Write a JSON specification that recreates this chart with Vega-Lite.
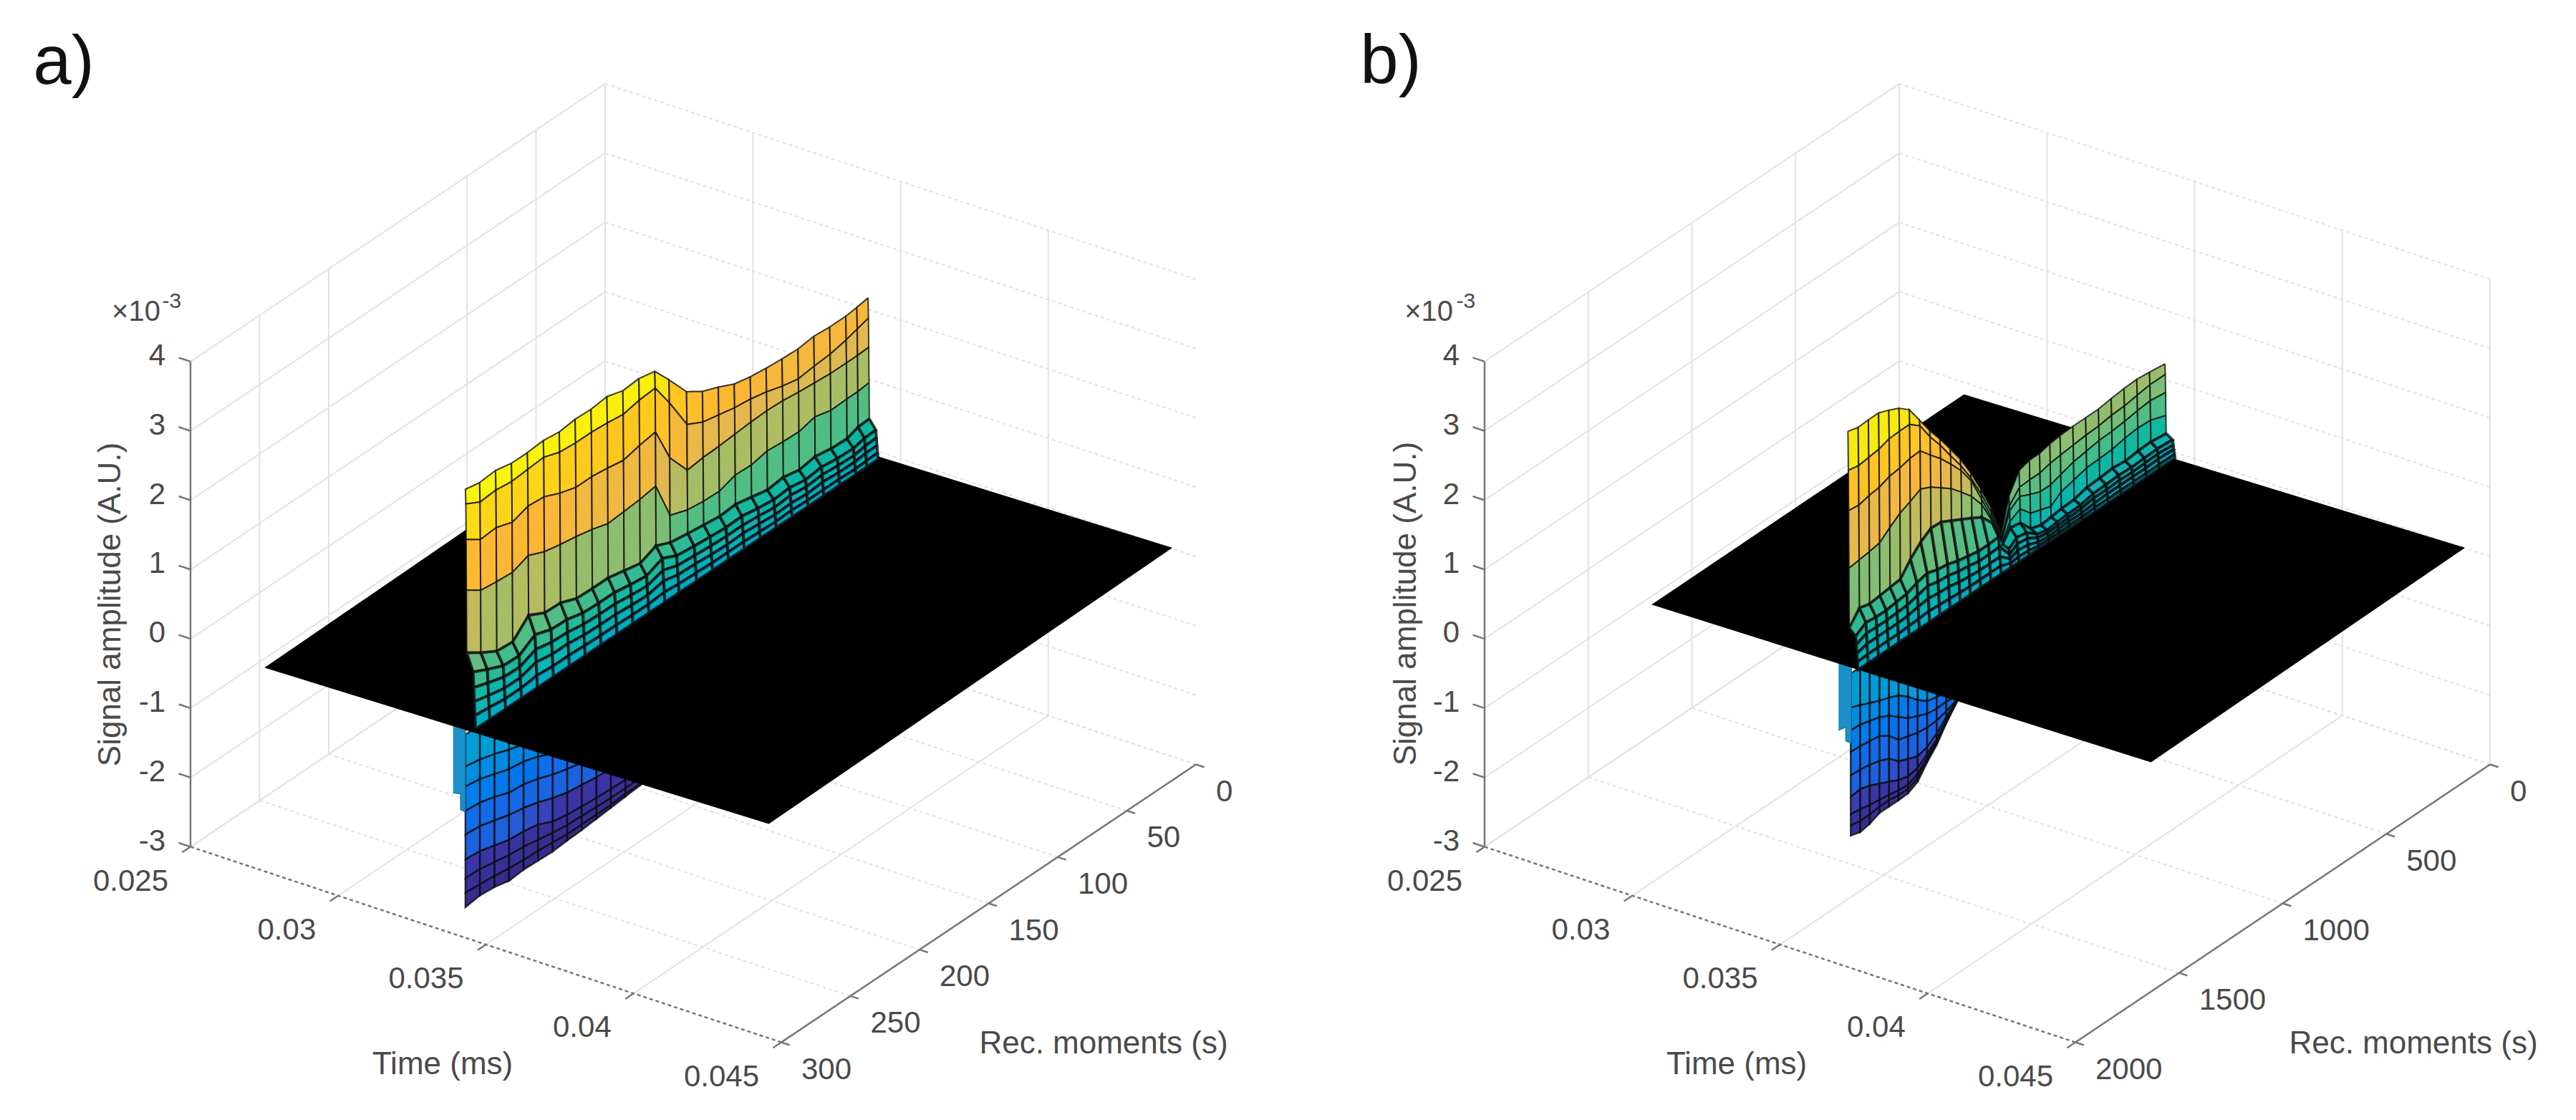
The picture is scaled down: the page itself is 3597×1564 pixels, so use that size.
{"$schema":"https://vega.github.io/schema/vega-lite/v6.json","width":3597,"height":1564,"padding":0,"autosize":{"type":"fit","contains":"padding"},"background":"white","config":{"view":{"stroke":null}},
"datasets":{
"ticks":[
{"panel":"a","axis":"t","value":0.025,"label":"0.025"},{"panel":"a","axis":"t","value":0.03,"label":"0.03"},{"panel":"a","axis":"t","value":0.035,"label":"0.035"},{"panel":"a","axis":"t","value":0.04,"label":"0.04"},{"panel":"a","axis":"t","value":0.045,"label":"0.045"},
{"panel":"a","axis":"m","value":0,"label":"0"},{"panel":"a","axis":"m","value":50,"label":"50"},{"panel":"a","axis":"m","value":100,"label":"100"},{"panel":"a","axis":"m","value":150,"label":"150"},{"panel":"a","axis":"m","value":200,"label":"200"},{"panel":"a","axis":"m","value":250,"label":"250"},{"panel":"a","axis":"m","value":300,"label":"300"},
{"panel":"a","axis":"z","value":-3,"label":"-3"},{"panel":"a","axis":"z","value":-2,"label":"-2"},{"panel":"a","axis":"z","value":-1,"label":"-1"},{"panel":"a","axis":"z","value":0,"label":"0"},{"panel":"a","axis":"z","value":1,"label":"1"},{"panel":"a","axis":"z","value":2,"label":"2"},{"panel":"a","axis":"z","value":3,"label":"3"},{"panel":"a","axis":"z","value":4,"label":"4"},
{"panel":"b","axis":"t","value":0.025,"label":"0.025"},{"panel":"b","axis":"t","value":0.03,"label":"0.03"},{"panel":"b","axis":"t","value":0.035,"label":"0.035"},{"panel":"b","axis":"t","value":0.04,"label":"0.04"},{"panel":"b","axis":"t","value":0.045,"label":"0.045"},
{"panel":"b","axis":"m","value":0,"label":"0"},{"panel":"b","axis":"m","value":500,"label":"500"},{"panel":"b","axis":"m","value":1000,"label":"1000"},{"panel":"b","axis":"m","value":1500,"label":"1500"},{"panel":"b","axis":"m","value":2000,"label":"2000"},
{"panel":"b","axis":"z","value":-3,"label":"-3"},{"panel":"b","axis":"z","value":-2,"label":"-2"},{"panel":"b","axis":"z","value":-1,"label":"-1"},{"panel":"b","axis":"z","value":0,"label":"0"},{"panel":"b","axis":"z","value":1,"label":"1"},{"panel":"b","axis":"z","value":2,"label":"2"},{"panel":"b","axis":"z","value":3,"label":"3"},{"panel":"b","axis":"z","value":4,"label":"4"}],
"axes":[
{"panel":"a","name":"time","t1":0.025,"m1":300,"z1":-3,"t2":0.045,"m2":300,"z2":-3},{"panel":"a","name":"rec","t1":0.045,"m1":300,"z1":-3,"t2":0.045,"m2":0,"z2":-3},{"panel":"a","name":"amp","t1":0.025,"m1":300,"z1":-3,"t2":0.025,"m2":300,"z2":4},
{"panel":"b","name":"time","t1":0.025,"m1":2000,"z1":-3,"t2":0.045,"m2":2000,"z2":-3},{"panel":"b","name":"rec","t1":0.045,"m1":2000,"z1":-3,"t2":0.045,"m2":0,"z2":-3},{"panel":"b","name":"amp","t1":0.025,"m1":2000,"z1":-3,"t2":0.025,"m2":2000,"z2":4}],
"titles":[
{"panel":"a","kind":"panel","text":"a)","t":0.025,"m":391.7,"z":9.53},{"panel":"a","kind":"axis","text":"Time (ms)","t":0.025,"m":117.6,"z":-8.58},{"panel":"a","kind":"axis","text":"Rec. moments (s)","t":0.025,"m":-360.6,"z":-14.67},{"panel":"a","kind":"amp","text":"Signal amplitude (A.U.)","t":0.025,"m":357.5,"z":1.265},{"panel":"a","kind":"times","text":"×10","t":0.025,"m":339.4,"z":5.24},{"panel":"a","kind":"exp","text":"-3","t":0.025,"m":313.5,"z":5.05},
{"panel":"b","kind":"panel","text":"b)","t":0.025,"m":2452.6,"z":9.22},{"panel":"b","kind":"axis","text":"Time (ms)","t":0.025,"m":784,"z":-8.58},{"panel":"b","kind":"axis","text":"Rec. moments (s)","t":0.025,"m":-2480,"z":-14.82},{"panel":"b","kind":"amp","text":"Signal amplitude (A.U.)","t":0.025,"m":2376,"z":1.26},{"panel":"b","kind":"times","text":"×10","t":0.025,"m":2269,"z":5.25},{"panel":"b","kind":"exp","text":"-3","t":0.025,"m":2090,"z":5.05}],
"plane":[
{"panel":"a","seq":1,"t":0.027654,"m":302.9},{"panel":"a","seq":2,"t":0.044352,"m":295.2},{"panel":"a","seq":3,"t":0.04416,"m":-0.4},{"panel":"a","seq":4,"t":0.02745,"m":7},
{"panel":"b","seq":1,"t":0.027624,"m":1567},{"panel":"b","seq":2,"t":0.044264,"m":1530.6},{"panel":"b","seq":3,"t":0.044126,"m":-0.4},{"panel":"b","seq":4,"t":0.027598,"m":59.4}],
"sliver":[
{"panel":"a","seq":1,"t":0.03382,"m":298.5,"z":0},{"panel":"a","seq":2,"t":0.03424,"m":298.5,"z":0},{"panel":"a","seq":3,"t":0.03424,"m":298.5,"z":-1.21},{"panel":"a","seq":4,"t":0.03407,"m":298.5,"z":-1.21},{"panel":"a","seq":5,"t":0.03407,"m":298.5,"z":-0.98},{"panel":"a","seq":6,"t":0.03382,"m":298.5,"z":-1.0},
{"panel":"b","seq":1,"t":0.033824,"m":1550,"z":0},{"panel":"b","seq":2,"t":0.03426,"m":1550,"z":0},{"panel":"b","seq":3,"t":0.03426,"m":1550,"z":-1.1},{"panel":"b","seq":4,"t":0.034066,"m":1550,"z":-1.1},{"panel":"b","seq":5,"t":0.034066,"m":1550,"z":-0.9},{"panel":"b","seq":6,"t":0.033824,"m":1550,"z":-0.98}],
"lobe":[
{"panel":"a","m":298.5,"s0":-0.1,"s1":-0.56,"s2":-0.85,"s3":-1.2,"s4":-1.54,"s5":-1.9,"s6":-2.17,"s7":-2.38,"s8":-2.59},
{"panel":"a","m":288,"s0":-0.1,"s1":-0.6,"s2":-0.88,"s3":-1.22,"s4":-1.56,"s5":-1.92,"s6":-2.18,"s7":-2.4,"s8":-2.56},
{"panel":"a","m":277.4,"s0":-0.1,"s1":-0.66,"s2":-0.95,"s3":-1.28,"s4":-1.62,"s5":-1.98,"s6":-2.22,"s7":-2.42,"s8":-2.58},
{"panel":"a","m":266.9,"s0":-0.1,"s1":-0.74,"s2":-1.02,"s3":-1.36,"s4":-1.68,"s5":-2.04,"s6":-2.26,"s7":-2.45,"s8":-2.63},
{"panel":"a","m":256.4,"s0":-0.1,"s1":-0.8,"s2":-1.05,"s3":-1.38,"s4":-1.72,"s5":-2.06,"s6":-2.28,"s7":-2.47,"s8":-2.61},
{"panel":"a","m":245.9,"s0":-0.1,"s1":-0.85,"s2":-1.12,"s3":-1.44,"s4":-1.78,"s5":-2.1,"s6":-2.32,"s7":-2.48,"s8":-2.62},
{"panel":"a","m":235.3,"s0":-0.1,"s1":-0.95,"s2":-1.22,"s3":-1.52,"s4":-1.86,"s5":-2.2,"s6":-2.36,"s7":-2.5,"s8":-2.63},
{"panel":"a","m":224.8,"s0":-0.1,"s1":-1.02,"s2":-1.28,"s3":-1.58,"s4":-1.92,"s5":-2.24,"s6":-2.39,"s7":-2.52,"s8":-2.61},
{"panel":"a","m":214.3,"s0":-0.1,"s1":-1.07,"s2":-1.33,"s3":-1.63,"s4":-1.95,"s5":-2.26,"s6":-2.4,"s7":-2.52,"s8":-2.6},
{"panel":"a","m":203.7,"s0":-0.1,"s1":-1.1,"s2":-1.38,"s3":-1.68,"s4":-1.98,"s5":-2.28,"s6":-2.41,"s7":-2.52,"s8":-2.58},
{"panel":"a","m":193.2,"s0":-0.1,"s1":-1.13,"s2":-1.42,"s3":-1.72,"s4":-2.0,"s5":-2.29,"s6":-2.42,"s7":-2.52,"s8":-2.56},
{"panel":"a","m":182.7,"s0":-0.1,"s1":-1.16,"s2":-1.45,"s3":-1.75,"s4":-2.02,"s5":-2.3,"s6":-2.42,"s7":-2.5,"s8":-2.54},
{"panel":"a","m":172.1,"s0":-0.1,"s1":-1.18,"s2":-1.48,"s3":-1.78,"s4":-2.04,"s5":-2.3,"s6":-2.42,"s7":-2.5,"s8":-2.52},
{"panel":"a","m":161,"s0":-0.1,"s1":-1.2,"s2":-1.5,"s3":-1.8,"s4":-2.05,"s5":-2.3,"s6":-2.42,"s7":-2.5,"s8":-2.51},
{"panel":"b","m":1550,"s0":-0.1,"s1":-0.59,"s2":-0.92,"s3":-1.23,"s4":-1.57,"s5":-1.88,"s6":-2.13,"s7":-2.29,"s8":-2.44},
{"panel":"b","m":1504,"s0":-0.1,"s1":-0.65,"s2":-0.93,"s3":-1.24,"s4":-1.58,"s5":-1.86,"s6":-2.15,"s7":-2.32,"s8":-2.48},
{"panel":"b","m":1458,"s0":-0.1,"s1":-0.71,"s2":-0.97,"s3":-1.26,"s4":-1.6,"s5":-1.9,"s6":-2.18,"s7":-2.32,"s8":-2.45},
{"panel":"b","m":1411,"s0":-0.1,"s1":-0.77,"s2":-1.01,"s3":-1.28,"s4":-1.64,"s5":-1.97,"s6":-2.2,"s7":-2.3,"s8":-2.39},
{"panel":"b","m":1365,"s0":-0.1,"s1":-0.82,"s2":-1.08,"s3":-1.37,"s4":-1.7,"s5":-2.03,"s6":-2.22,"s7":-2.3,"s8":-2.39},
{"panel":"b","m":1319,"s0":-0.1,"s1":-0.88,"s2":-1.19,"s3":-1.52,"s4":-1.83,"s5":-2.1,"s6":-2.25,"s7":-2.32,"s8":-2.39},
{"panel":"b","m":1273,"s0":-0.1,"s1":-0.99,"s2":-1.3,"s3":-1.56,"s4":-1.89,"s5":-2.14,"s6":-2.26,"s7":-2.32,"s8":-2.38},
{"panel":"b","m":1227,"s0":-0.1,"s1":-1.13,"s2":-1.36,"s3":-1.6,"s4":-1.94,"s5":-2.11,"s6":-2.2,"s7":-2.26,"s8":-2.31},
{"panel":"b","m":1181,"s0":-0.1,"s1":-1.24,"s2":-1.42,"s3":-1.62,"s4":-1.9,"s5":-2.0,"s6":-2.06,"s7":-2.09,"s8":-2.12},
{"panel":"b","m":1135,"s0":-0.1,"s1":-1.27,"s2":-1.44,"s3":-1.61,"s4":-1.8,"s5":-1.88,"s6":-1.92,"s7":-1.94,"s8":-1.96},
{"panel":"b","m":1089,"s0":-0.1,"s1":-1.29,"s2":-1.43,"s3":-1.57,"s4":-1.65,"s5":-1.7,"s6":-1.72,"s7":-1.73,"s8":-1.74},
{"panel":"b","m":1037,"s0":-0.1,"s1":-1.36,"s2":-1.45,"s3":-1.5,"s4":-1.51,"s5":-1.52,"s6":-1.53,"s7":-1.53,"s8":-1.53}],
"wall":[
{"panel":"a","m":298.5,"s0":3.44,"s1":3.23,"s2":2.72,"s3":1.99,"s4":1.09,"s5":0.84,"s6":0.62,"s7":0.42,"s8":0.22,"s9":0.03},
{"panel":"a","m":288.2,"s0":3.4,"s1":3.12,"s2":2.58,"s3":1.85,"s4":0.95,"s5":0.74,"s6":0.55,"s7":0.37,"s8":0.2,"s9":0.03},
{"panel":"a","m":276.7,"s0":3.42,"s1":3.14,"s2":2.6,"s3":1.82,"s4":0.82,"s5":0.64,"s6":0.48,"s7":0.32,"s8":0.17,"s9":0.03},
{"panel":"a","m":265.2,"s0":3.37,"s1":3.11,"s2":2.52,"s3":1.8,"s4":0.8,"s5":0.63,"s6":0.47,"s7":0.32,"s8":0.17,"s9":0.03},
{"panel":"a","m":253.7,"s0":3.37,"s1":3.13,"s2":2.6,"s3":1.89,"s4":1.03,"s5":0.78,"s6":0.57,"s7":0.39,"s8":0.2,"s9":0.03},
{"panel":"a","m":242.1,"s0":3.39,"s1":3.15,"s2":2.58,"s3":1.79,"s4":0.91,"s5":0.7,"s6":0.52,"s7":0.35,"s8":0.18,"s9":0.03},
{"panel":"a","m":230.6,"s0":3.36,"s1":3.07,"s2":2.48,"s3":1.74,"s4":0.9,"s5":0.69,"s6":0.51,"s7":0.35,"s8":0.18,"s9":0.03},
{"panel":"a","m":219.1,"s0":3.39,"s1":3.05,"s2":2.41,"s3":1.7,"s4":0.81,"s5":0.63,"s6":0.47,"s7":0.32,"s8":0.17,"s9":0.03},
{"panel":"a","m":207.6,"s0":3.38,"s1":3.05,"s2":2.41,"s3":1.65,"s4":0.8,"s5":0.62,"s6":0.46,"s7":0.31,"s8":0.16,"s9":0.03},
{"panel":"a","m":196.1,"s0":3.41,"s1":3.03,"s2":2.38,"s3":1.58,"s4":0.8,"s5":0.62,"s6":0.46,"s7":0.31,"s8":0.16,"s9":0.03},
{"panel":"a","m":184.6,"s0":3.34,"s1":3.0,"s2":2.34,"s3":1.6,"s4":0.75,"s5":0.58,"s6":0.43,"s7":0.29,"s8":0.15,"s9":0.03},
{"panel":"a","m":173,"s0":3.36,"s1":3.05,"s2":2.4,"s3":1.62,"s4":0.7,"s5":0.55,"s6":0.41,"s7":0.28,"s8":0.15,"s9":0.03},
{"panel":"a","m":161.5,"s0":3.31,"s1":3.07,"s2":2.44,"s3":1.66,"s4":0.8,"s5":0.65,"s6":0.48,"s7":0.33,"s8":0.17,"s9":0.03},
{"panel":"a","m":151.2,"s0":3.05,"s1":2.72,"s2":1.93,"s3":1.1,"s4":0.71,"s5":0.55,"s6":0.41,"s7":0.28,"s8":0.15,"s9":0.03},
{"panel":"a","m":138.5,"s0":2.71,"s1":2.24,"s2":1.58,"s3":1.01,"s4":0.67,"s5":0.52,"s6":0.39,"s7":0.27,"s8":0.14,"s9":0.03},
{"panel":"a","m":127,"s0":2.56,"s1":2.12,"s2":1.61,"s3":0.98,"s4":0.64,"s5":0.5,"s6":0.37,"s7":0.25,"s8":0.13,"s9":0.03},
{"panel":"a","m":115.5,"s0":2.47,"s1":2.07,"s2":1.62,"s3":0.97,"s4":0.61,"s5":0.48,"s6":0.36,"s7":0.24,"s8":0.13,"s9":0.03},
{"panel":"a","m":104,"s0":2.36,"s1":2.02,"s2":1.64,"s3":1.05,"s4":0.63,"s5":0.49,"s6":0.36,"s7":0.25,"s8":0.13,"s9":0.03},
{"panel":"a","m":92.4,"s0":2.31,"s1":1.99,"s2":1.66,"s3":1.04,"s4":0.58,"s5":0.45,"s6":0.34,"s7":0.23,"s8":0.12,"s9":0.03},
{"panel":"a","m":80.9,"s0":2.28,"s1":1.94,"s2":1.67,"s3":1.09,"s4":0.53,"s5":0.42,"s6":0.31,"s7":0.21,"s8":0.11,"s9":0.03},
{"panel":"a","m":69.4,"s0":2.26,"s1":1.87,"s2":1.66,"s3":1.07,"s4":0.56,"s5":0.44,"s6":0.33,"s7":0.22,"s8":0.12,"s9":0.03},
{"panel":"a","m":57.9,"s0":2.25,"s1":1.82,"s2":1.63,"s3":1.06,"s4":0.51,"s5":0.4,"s6":0.3,"s7":0.2,"s8":0.11,"s9":0.03},
{"panel":"a","m":46.4,"s0":2.28,"s1":1.85,"s2":1.61,"s3":1.12,"s4":0.55,"s5":0.43,"s6":0.32,"s7":0.22,"s8":0.11,"s9":0.03},
{"panel":"a","m":34.9,"s0":2.26,"s1":1.87,"s2":1.59,"s3":1.06,"s4":0.51,"s5":0.4,"s6":0.3,"s7":0.2,"s8":0.11,"s9":0.03},
{"panel":"a","m":23.3,"s0":2.26,"s1":1.92,"s2":1.59,"s3":1.07,"s4":0.5,"s5":0.39,"s6":0.29,"s7":0.2,"s8":0.1,"s9":0.03},
{"panel":"a","m":15.3,"s0":2.28,"s1":1.97,"s2":1.59,"s3":1.07,"s4":0.56,"s5":0.43,"s6":0.32,"s7":0.22,"s8":0.11,"s9":0.03},
{"panel":"a","m":7.2,"s0":2.31,"s1":2.02,"s2":1.6,"s3":1.09,"s4":0.57,"s5":0.44,"s6":0.33,"s7":0.22,"s8":0.12,"s9":0.03},
{"panel":"b","m":1563.4,"s0":3.42,"s1":2.86,"s2":2.28,"s3":1.45,"s4":0.59,"s5":0.5,"s6":0.38,"s7":0.26,"s8":0.14,"s9":0.03},
{"panel":"b","m":1514,"s0":3.38,"s1":2.83,"s2":2.26,"s3":1.47,"s4":0.78,"s5":0.6,"s6":0.45,"s7":0.3,"s8":0.15,"s9":0.03},
{"panel":"b","m":1464.8,"s0":3.39,"s1":2.85,"s2":2.3,"s3":1.49,"s4":0.74,"s5":0.58,"s6":0.44,"s7":0.3,"s8":0.15,"s9":0.03},
{"panel":"b","m":1415.4,"s0":3.39,"s1":2.87,"s2":2.32,"s3":1.52,"s4":0.76,"s5":0.58,"s6":0.44,"s7":0.3,"s8":0.15,"s9":0.03},
{"panel":"b","m":1366.2,"s0":3.33,"s1":2.92,"s2":2.38,"s3":1.64,"s4":0.78,"s5":0.6,"s6":0.45,"s7":0.3,"s8":0.15,"s9":0.03},
{"panel":"b","m":1316.8,"s0":3.26,"s1":2.93,"s2":2.4,"s3":1.75,"s4":0.8,"s5":0.62,"s6":0.46,"s7":0.31,"s8":0.16,"s9":0.03},
{"panel":"b","m":1267.6,"s0":3.14,"s1":2.93,"s2":2.44,"s3":1.82,"s4":0.99,"s5":0.68,"s6":0.5,"s7":0.34,"s8":0.17,"s9":0.03},
{"panel":"b","m":1218.2,"s0":2.89,"s1":2.81,"s2":2.45,"s3":1.9,"s4":1.14,"s5":0.72,"s6":0.54,"s7":0.36,"s8":0.18,"s9":0.03},
{"panel":"b","m":1168.8,"s0":2.64,"s1":2.55,"s2":2.29,"s3":1.83,"s4":1.24,"s5":0.67,"s6":0.5,"s7":0.34,"s8":0.17,"s9":0.03},
{"panel":"b","m":1119.6,"s0":2.42,"s1":2.33,"s2":2.14,"s3":1.72,"s4":1.23,"s5":0.65,"s6":0.49,"s7":0.33,"s8":0.16,"s9":0.03},
{"panel":"b","m":1070.2,"s0":2.18,"s1":2.08,"s2":1.96,"s3":1.61,"s4":1.15,"s5":0.6,"s6":0.45,"s7":0.3,"s8":0.15,"s9":0.03},
{"panel":"b","m":1021,"s0":1.93,"s1":1.84,"s2":1.77,"s3":1.46,"s4":1.07,"s5":0.57,"s6":0.43,"s7":0.28,"s8":0.14,"s9":0.03},
{"panel":"b","m":971.6,"s0":1.64,"s1":1.56,"s2":1.52,"s3":1.3,"s4":0.99,"s5":0.54,"s6":0.4,"s7":0.27,"s8":0.14,"s9":0.03},
{"panel":"b","m":922.2,"s0":1.3,"s1":1.23,"s2":1.16,"s3":1.08,"s4":0.9,"s5":0.54,"s6":0.4,"s7":0.27,"s8":0.14,"s9":0.03},
{"panel":"b","m":873,"s0":0.93,"s1":0.86,"s2":0.79,"s3":0.75,"s4":0.72,"s5":0.55,"s6":0.41,"s7":0.27,"s8":0.14,"s9":0.03},
{"panel":"b","m":823.6,"s0":0.45,"s1":0.39,"s2":0.38,"s3":0.34,"s4":0.31,"s5":0.28,"s6":0.2,"s7":0.14,"s8":0.08,"s9":0.03},
{"panel":"b","m":786.6,"s0":0.93,"s1":0.79,"s2":0.72,"s3":0.57,"s4":0.48,"s5":0.37,"s6":0.28,"s7":0.19,"s8":0.1,"s9":0.03},
{"panel":"b","m":737.4,"s0":1.2,"s1":0.96,"s2":0.83,"s3":0.65,"s4":0.45,"s5":0.34,"s6":0.26,"s7":0.17,"s8":0.09,"s9":0.03},
{"panel":"b","m":688,"s0":1.25,"s1":0.97,"s2":0.76,"s3":0.49,"s4":0.27,"s5":0.22,"s6":0.17,"s7":0.11,"s8":0.06,"s9":0.03},
{"panel":"b","m":638.8,"s0":1.25,"s1":0.97,"s2":0.7,"s3":0.44,"s4":0.22,"s5":0.18,"s6":0.14,"s7":0.09,"s8":0.05,"s9":0.02},
{"panel":"b","m":589.4,"s0":1.29,"s1":1.01,"s2":0.7,"s3":0.39,"s4":0.24,"s5":0.2,"s6":0.15,"s7":0.1,"s8":0.05,"s9":0.02},
{"panel":"b","m":540,"s0":1.31,"s1":1.03,"s2":0.75,"s3":0.5,"s4":0.26,"s5":0.21,"s6":0.16,"s7":0.11,"s8":0.06,"s9":0.02},
{"panel":"b","m":478.4,"s0":1.32,"s1":1.05,"s2":0.81,"s3":0.55,"s4":0.27,"s5":0.22,"s6":0.17,"s7":0.11,"s8":0.06,"s9":0.02},
{"panel":"b","m":416.8,"s0":1.32,"s1":1.07,"s2":0.84,"s3":0.6,"s4":0.32,"s5":0.26,"s6":0.2,"s7":0.13,"s8":0.07,"s9":0.02},
{"panel":"b","m":355.2,"s0":1.32,"s1":1.08,"s2":0.87,"s3":0.61,"s4":0.33,"s5":0.27,"s6":0.2,"s7":0.14,"s8":0.07,"s9":0.02},
{"panel":"b","m":293.6,"s0":1.35,"s1":1.11,"s2":0.88,"s3":0.62,"s4":0.35,"s5":0.28,"s6":0.21,"s7":0.14,"s8":0.07,"s9":0.02},
{"panel":"b","m":231.8,"s0":1.37,"s1":1.12,"s2":0.9,"s3":0.66,"s4":0.33,"s5":0.27,"s6":0.2,"s7":0.14,"s8":0.07,"s9":0.02},
{"panel":"b","m":170.2,"s0":1.38,"s1":1.15,"s2":0.93,"s3":0.68,"s4":0.35,"s5":0.28,"s6":0.21,"s7":0.14,"s8":0.07,"s9":0.02},
{"panel":"b","m":108.6,"s0":1.36,"s1":1.18,"s2":0.95,"s3":0.67,"s4":0.36,"s5":0.29,"s6":0.22,"s7":0.15,"s8":0.07,"s9":0.02},
{"panel":"b","m":34.6,"s0":1.33,"s1":1.18,"s2":0.92,"s3":0.59,"s4":0.33,"s5":0.27,"s6":0.2,"s7":0.14,"s8":0.07,"s9":0.02}]
},
"encoding":{"x":{"field":"px","type":"quantitative","axis":null,"scale":{"domain":[0,3597],"nice":false,"zero":false}},"y":{"field":"py","type":"quantitative","axis":null,"scale":{"domain":[1564,0],"nice":false,"zero":false}}},
"layer":[
{"data":{"name":"ticks"},"transform":[
{"calculate":"datum.axis=='t'?(datum.value-0.025)/0.02:datum.axis=='m'?1-datum.value/(datum.panel=='a'?300:2000):datum.value","as":"n"},
{"calculate":"datum.axis=='t'?['floorT','wallT']:datum.axis=='m'?['floorM','wallM']:['zL','zR']","as":"seg"},{"flatten":["seg"]},
{"filter":"!(datum.panel=='a'&&((datum.seg=='wallT'&&datum.value==0.045)||(datum.seg=='wallM'&&datum.value==150)))"},
{"calculate":"datum.seg=='floorM'||datum.seg=='zR'?'d':'s'","as":"dash"},
{"calculate":"datum.axis=='t'?datum.n:0","as":"u1"},
{"calculate":"datum.seg=='wallT'||datum.seg=='zR'?1:datum.axis=='m'?datum.n:0","as":"w1"},
{"calculate":"datum.axis=='z'?datum.n:-3","as":"z1"},
{"calculate":"datum.axis=='t'?datum.n:(datum.seg=='floorM'||datum.seg=='zR')?1:0","as":"u2"},
{"calculate":"datum.axis=='m'?datum.n:1","as":"w2"},
{"calculate":"datum.axis=='z'?datum.n:(datum.seg=='wallT'||datum.seg=='wallM')?4:-3","as":"z2"},
{"calculate":"(datum.panel=='a'?266:2073)+825*datum.u1+579*datum.w1","as":"px"},
{"calculate":"1182.5+273*datum.u1-388*datum.w1-96.8*(datum.z1+3)","as":"py"},
{"calculate":"(datum.panel=='a'?266:2073)+825*datum.u2+579*datum.w2","as":"qx"},
{"calculate":"1182.5+273*datum.u2-388*datum.w2-96.8*(datum.z2+3)","as":"qy"}],
"mark":{"type":"rule","stroke":"#e2e2e2","strokeWidth":2},
"encoding":{"x2":{"field":"qx"},"y2":{"field":"qy"},"strokeDash":{"field":"dash","type":"nominal","scale":{"domain":["s","d"],"range":[[1,0],[5,4]]},"legend":null}}},
{"data":{"name":"axes"},"transform":[
{"calculate":"datum.panel=='a'?300:2000","as":"mx"},
{"calculate":"(datum.panel=='a'?266:2073)+825*(datum.t1-0.025)/0.02+579*(1-datum.m1/datum.mx)","as":"px"},
{"calculate":"1182.5+273*(datum.t1-0.025)/0.02-388*(1-datum.m1/datum.mx)-96.8*(datum.z1+3)","as":"py"},
{"calculate":"(datum.panel=='a'?266:2073)+825*(datum.t2-0.025)/0.02+579*(1-datum.m2/datum.mx)","as":"qx"},
{"calculate":"1182.5+273*(datum.t2-0.025)/0.02-388*(1-datum.m2/datum.mx)-96.8*(datum.z2+3)","as":"qy"},
{"calculate":"datum.name=='time'?'dot':'solid'","as":"dash"}],
"mark":{"type":"rule","stroke":"#777777","strokeWidth":2.5},
"encoding":{"x2":{"field":"qx"},"y2":{"field":"qy"},"strokeDash":{"field":"dash","type":"nominal","scale":{"domain":["solid","dot"],"range":[[1,0],[3,3]]},"legend":null}}},
{"data":{"name":"ticks"},"transform":[
{"calculate":"datum.axis=='t'?(datum.value-0.025)/0.02:datum.axis=='m'?1-datum.value/(datum.panel=='a'?300:2000):datum.value","as":"n"},
{"calculate":"datum.axis=='t'?datum.n:datum.axis=='m'?1:0","as":"U"},
{"calculate":"datum.axis=='m'?datum.n:0","as":"W"},
{"calculate":"datum.axis=='z'?datum.n:-3","as":"Z"},
{"calculate":"(datum.panel=='a'?266:2073)+825*datum.U+579*datum.W","as":"px"},
{"calculate":"1182.5+273*datum.U-388*datum.W-96.8*(datum.Z+3)","as":"py"},
{"calculate":"datum.px+(datum.axis=='t'?-11.6:datum.axis=='m'?11.6:-16.5)","as":"qx"},
{"calculate":"datum.py+(datum.axis=='t'?7.8:datum.axis=='m'?3.8:-5.5)","as":"qy"}],
"layer":[
{"mark":{"type":"rule","stroke":"#777777","strokeWidth":2.5},"encoding":{"x2":{"field":"qx"},"y2":{"field":"qy"}}},
{"transform":[{"filter":"datum.axis=='z'"}],"mark":{"type":"text","font":"Liberation Sans","fontSize":42,"fill":"#4a4a4a","align":"right","baseline":"middle","dx":-35,"dy":-8},"encoding":{"text":{"field":"label"}}},
{"transform":[{"filter":"datum.axis=='t'"}],"mark":{"type":"text","font":"Liberation Sans","fontSize":42,"fill":"#4a4a4a","align":"right","baseline":"middle","dx":-31,"dy":48},"encoding":{"text":{"field":"label"}}},
{"transform":[{"filter":"datum.axis=='m'"}],"mark":{"type":"text","font":"Liberation Sans","fontSize":42,"fill":"#4a4a4a","align":"left","baseline":"middle","dx":28,"dy":38},"encoding":{"text":{"field":"label"}}}]},
{"data":{"name":"titles"},"transform":[
{"calculate":"(datum.panel=='a'?266:2073)+825*(datum.t-0.025)/0.02+579*(1-datum.m/(datum.panel=='a'?300:2000))","as":"px"},
{"calculate":"1182.5+273*(datum.t-0.025)/0.02-388*(1-datum.m/(datum.panel=='a'?300:2000))-96.8*(datum.z+3)","as":"py"}],
"mark":{"type":"text","font":"Liberation Sans","align":"center","baseline":"middle"},
"encoding":{"text":{"field":"text"},"size":{"field":"kind","type":"nominal","scale":{"type":"ordinal","domain":["panel","axis","amp","times","exp"],"range":[96,44,44,40,30]},"legend":null},"angle":{"condition":{"test":"datum.kind=='amp'","value":270},"value":0},"color":{"condition":{"test":"datum.kind=='panel'","value":"#111111"},"value":"#4a4a4a"}}},
{"data":{"name":"lobe"},"transform":[
{"fold":["s0","s1","s2","s3","s4","s5","s6","s7","s8"],"as":["k","amp"]},
{"calculate":"toNumber(substring(datum.k,1))","as":"ki"},
{"window":[{"op":"lead","field":"amp","as":"ampU"}],"sort":[{"field":"ki"}],"groupby":["panel","m"]},
{"window":[{"op":"lead","field":"amp","as":"ampR"},{"op":"lead","field":"ampU","as":"ampUR"},{"op":"lead","field":"m","as":"mR"}],"sort":[{"field":"m"}],"groupby":["panel","ki"]},
{"filter":"datum.ampU!=null&&datum.mR!=null"},
{"calculate":"(datum.amp+datum.ampU+datum.ampR+datum.ampUR)/4","as":"ampMean"},
{"calculate":"datum.panel+'-'+datum.m+'-'+datum.ki","as":"cell"},
{"calculate":"[1,2,3,4,5]","as":"corner"},{"flatten":["corner"]},
{"calculate":"[datum.m,datum.mR,datum.mR,datum.m,datum.m][datum.corner-1]","as":"pm"},
{"calculate":"[datum.amp,datum.ampR,datum.ampUR,datum.ampU,datum.amp][datum.corner-1]","as":"pa"},
{"calculate":"(datum.panel=='a'?266:2073)+825*0.4618+579*(1-datum.pm/(datum.panel=='a'?300:2000))","as":"px"},
{"calculate":"1182.5+273*0.4618-388*(1-datum.pm/(datum.panel=='a'?300:2000))-96.8*(datum.pa+3)","as":"py"}],
"mark":{"type":"line","filled":true,"stroke":"#0c0c0c","strokeWidth":2.5,"strokeOpacity":0.8,"interpolate":"linear"},
"encoding":{"detail":{"field":"cell"},"order":{"field":"corner","type":"quantitative"},"fill":{"field":"ampMean","type":"quantitative","legend":null,"scale":{"domain":[-2.6,-2.05,-1.85,-1.3,-0.6,0,0.3,0.55,0.8,1.2,1.45,1.8,2.2,2.7,3.0,3.4],"range":["#352a87","#3a35a8","#1f5fdc","#0a70ee","#1495dc","#12a6c8","#12b3b3","#19b99b","#4fbd85","#8fbd70","#c0bb5e","#e3b84f","#fdb733","#fec71f","#f9e310","#f9fb0e"]}}}},
{"data":{"name":"sliver"},"transform":[
{"calculate":"(datum.panel=='a'?266:2073)+825*(datum.t-0.025)/0.02+579*(1-datum.m/(datum.panel=='a'?300:2000))","as":"px"},
{"calculate":"1182.5+273*(datum.t-0.025)/0.02-388*(1-datum.m/(datum.panel=='a'?300:2000))-96.8*(datum.z+3)","as":"py"}],
"mark":{"type":"line","filled":true,"fill":"#1a8fc9","stroke":"#14608a","strokeWidth":1},
"encoding":{"detail":{"field":"panel"},"order":{"field":"seq","type":"quantitative"}}},
{"data":{"name":"plane"},"transform":[
{"calculate":"(datum.panel=='a'?266:2073)+825*(datum.t-0.025)/0.02+579*(1-datum.m/(datum.panel=='a'?300:2000))","as":"px"},
{"calculate":"1182.5+273*(datum.t-0.025)/0.02-388*(1-datum.m/(datum.panel=='a'?300:2000))-96.8*3","as":"py"}],
"mark":{"type":"line","filled":true,"fill":"#000000","stroke":"#000000","strokeWidth":1},
"encoding":{"detail":{"field":"panel"},"order":{"field":"seq","type":"quantitative"}}},
{"data":{"name":"wall"},"transform":[
{"fold":["s0","s1","s2","s3","s4","s5","s6","s7","s8","s9"],"as":["k","amp"]},
{"calculate":"toNumber(substring(datum.k,1))","as":"ki"},
{"window":[{"op":"lead","field":"amp","as":"ampU"}],"sort":[{"field":"ki"}],"groupby":["panel","m"]},
{"window":[{"op":"lead","field":"amp","as":"ampR"},{"op":"lead","field":"ampU","as":"ampUR"},{"op":"lead","field":"m","as":"mR"}],"sort":[{"field":"m"}],"groupby":["panel","ki"]},
{"filter":"datum.ampU!=null&&datum.mR!=null"},
{"calculate":"(datum.amp+datum.ampU+datum.ampR+datum.ampUR)/4","as":"ampMean"},
{"calculate":"datum.panel+'-'+datum.m+'-'+datum.ki","as":"cell"},
{"calculate":"[1,2,3,4,5]","as":"corner"},{"flatten":["corner"]},
{"calculate":"[datum.m,datum.mR,datum.mR,datum.m,datum.m][datum.corner-1]","as":"pm"},
{"calculate":"[datum.amp,datum.ampR,datum.ampUR,datum.ampU,datum.amp][datum.corner-1]","as":"pa"},
{"calculate":"datum.ki+((datum.corner==3||datum.corner==4)?1:0)","as":"pk"},
{"calculate":"[0.034236,0.03425,0.03426,0.03427,0.03428,0.0345,0.03452,0.03454,0.03456,0.03458][datum.pk]","as":"pt"},
{"calculate":"(datum.panel=='a'?266:2073)+825*(datum.pt-0.025)/0.02+579*(1-datum.pm/(datum.panel=='a'?300:2000))","as":"px"},
{"calculate":"1182.5+273*(datum.pt-0.025)/0.02-388*(1-datum.pm/(datum.panel=='a'?300:2000))-96.8*(datum.pa+3)","as":"py"}],
"mark":{"type":"line","filled":true,"stroke":"#0c0c0c","strokeOpacity":0.8},
"encoding":{"detail":{"field":"cell"},"order":{"field":"corner","type":"quantitative"},"strokeWidth":{"condition":{"test":"datum.ki>=4","value":4},"value":2},"fill":{"field":"ampMean","type":"quantitative","legend":null,"scale":{"domain":[-2.6,-2.05,-1.85,-1.3,-0.6,0,0.3,0.55,0.8,1.2,1.45,1.8,2.2,2.7,3.0,3.4],"range":["#352a87","#3a35a8","#1f5fdc","#0a70ee","#1495dc","#12a6c8","#12b3b3","#19b99b","#4fbd85","#8fbd70","#c0bb5e","#e3b84f","#fdb733","#fec71f","#f9e310","#f9fb0e"]}}}}
]}
